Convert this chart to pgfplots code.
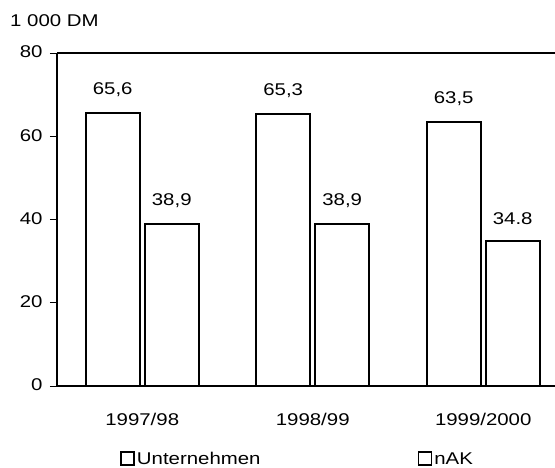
\documentclass[border=0pt]{standalone}
\usepackage{fontspec}
\setmainfont{Liberation Sans}[FakeStretch=1.2]
\usepackage{pgfplots}
\usepackage{pgfplotstable}
\pgfplotsset{compat=1.18}
\newcommand\myfont{\fontsize{17bp}{20bp}\selectfont}
\pgfplotstableread{
x y label
0 65.6 65,6
1 65.3 65,3
2 63.5 63,5
}\unternehmen
\pgfplotstableread{
x y label
0 38.9 38,9
1 38.9 38,9
2 34.8 34.8
}\nak
\begin{document}
\begin{tikzpicture}[font=\myfont]
\path[use as bounding box] (-57bp,-82bp) rectangle (498bp,386bp);
\begin{axis}[
  at={(0,0)}, anchor=south west,
  scale only axis, width=498bp, height=333bp,
  xmin=-0.5, xmax=2.421, ymin=0, ymax=80,
  axis lines*=left,
  axis line style={-, line width=1.2bp},
  ybar=5bp, bar width=54bp,
  xtick={0,1,2},
  xticklabels={1997/98,1998/99,1999/2000},
  major x tick style={draw=none},
  extra x ticks={-0.5,0.5,1.5},
  extra x tick labels={},
  extra x tick style={major tick length=5bp, tick align=outside, tick style={line width=1bp,black}},
  xticklabel style={yshift=-17bp},
  ytick={0,20,40,60,80},
  tick align=outside,
  major tick length=7bp,
  y tick style={line width=1bp, black},
  yticklabel style={xshift=-4bp, yshift=1bp},
  /pgf/number format/assume math mode=true,
  tick label style={font=\myfont},
  nodes near coords,
  point meta=explicit symbolic,
  every node near coord/.append style={font=\myfont, yshift=12bp},
  legend columns=2,
  legend style={at={(0,0)}, anchor=west, xshift=63bp, yshift=-73bp,
    draw=none, fill=none, font=\myfont, inner xsep=0pt,
    /tikz/every even column/.append style={column sep=155bp},
    cells={anchor=west}},
  legend image code/.code={\draw[line width=1.8bp, fill=white] (0bp,-6bp) rectangle (13bp,7bp);},
  clip=false,
]
\addplot[draw=black, fill=white, line width=1.8bp] table[x=x, y=y, meta=label] {\unternehmen};
\addlegendentry{Unternehmen}
\addplot[draw=black, fill=white, line width=1.8bp] table[x=x, y=y, meta=label] {\nak};
\addlegendentry{nAK}
\draw[line width=1.2bp] (rel axis cs:0,1) -- (rel axis cs:1,1);
\node[anchor=west, inner sep=0pt] at (rel axis cs:0,1) [xshift=-47bp, yshift=32bp] {1 000 DM};
\end{axis}
\end{tikzpicture}
\end{document}
